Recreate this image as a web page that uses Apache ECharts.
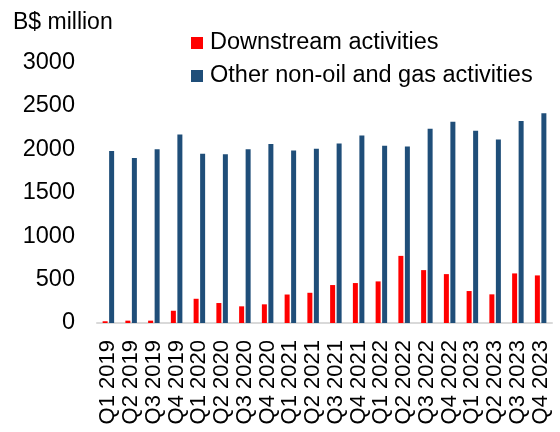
<!DOCTYPE html>
<html>
<head>
<meta charset="utf-8">
<script src="https://cdn.jsdelivr.net/npm/echarts@6/dist/echarts.min.js"></script>
<style>
  html, body { margin: 0; padding: 0; background: #fff; }
  #chart { width: 560px; height: 432px; }
</style>
</head>
<body>
<div id="chart"></div>
<script>
// Quarterly categories
const quarters = [
  'Q1 2019', 'Q2 2019', 'Q3 2019', 'Q4 2019',
  'Q1 2020', 'Q2 2020', 'Q3 2020', 'Q4 2020',
  'Q1 2021', 'Q2 2021', 'Q3 2021', 'Q4 2021',
  'Q1 2022', 'Q2 2022', 'Q3 2022', 'Q4 2022',
  'Q1 2023', 'Q2 2023', 'Q3 2023', 'Q4 2023'
];

// B$ million
const downstream = [
  20, 27, 27, 141,
  279, 230, 192, 215,
  328, 348, 437, 460,
  479, 773, 609, 563,
  368, 330, 571, 548
];
const otherNonOil = [
  1980, 1899, 2000, 2172,
  1950, 1942, 2000, 2060,
  1988, 2007, 2068, 2160,
  2042, 2034, 2237, 2317,
  2214, 2114, 2325, 2416
];

const colors = {
  red: '#FF0000',
  blue: '#1F4E79',
  text: '#000000',
  axis: '#D9D9D9'
};
const font = 'Liberation Sans, Arial, sans-serif';
const fontSize = 23.5;

const chart = echarts.init(document.getElementById('chart'));
chart.setOption({
  animation: false,
  textStyle: { fontFamily: font },
  title: {
    text: 'B$ million',
    left: 8,
    top: 6,
    textStyle: { fontSize: 23, fontWeight: 'normal', color: colors.text, fontFamily: font }
  },
  legend: {
    orient: 'vertical',
    left: 191,
    top: 31,
    padding: 0,
    itemWidth: 12,
    itemHeight: 12,
    itemGap: 9,
    icon: 'rect',
    textStyle: {
      fontSize: fontSize, lineHeight: 24, color: colors.text, fontFamily: font,
      padding: [0, 0, 0, 2]
    },
    data: ['Downstream activities', 'Other non-oil and gas activities']
  },
  grid: { left: 97, right: 8, top: 62.5, bottom: 109 },
  xAxis: {
    type: 'category',
    data: quarters,
    axisLine: { lineStyle: { color: colors.axis, width: 2 } },
    axisTick: { show: false },
    axisLabel: { rotate: 90, interval: 0, margin: 17, fontSize: 22, color: colors.text, fontFamily: font }
  },
  yAxis: {
    type: 'value',
    min: 0,
    max: 3000,
    interval: 500,
    splitLine: { show: false },
    axisLine: { show: false },
    axisTick: { show: false },
    axisLabel: {
      margin: 22, fontSize: fontSize, color: colors.text, fontFamily: font,
      formatter: v => String(v)
    }
  },
  series: [
    {
      name: 'Downstream activities',
      type: 'bar',
      data: downstream,
      barWidth: 5,
      barGap: '30%',
      itemStyle: { color: colors.red }
    },
    {
      name: 'Other non-oil and gas activities',
      type: 'bar',
      data: otherNonOil,
      barWidth: 5,
      itemStyle: { color: colors.blue }
    }
  ]
});
</script>
</body>
</html>
